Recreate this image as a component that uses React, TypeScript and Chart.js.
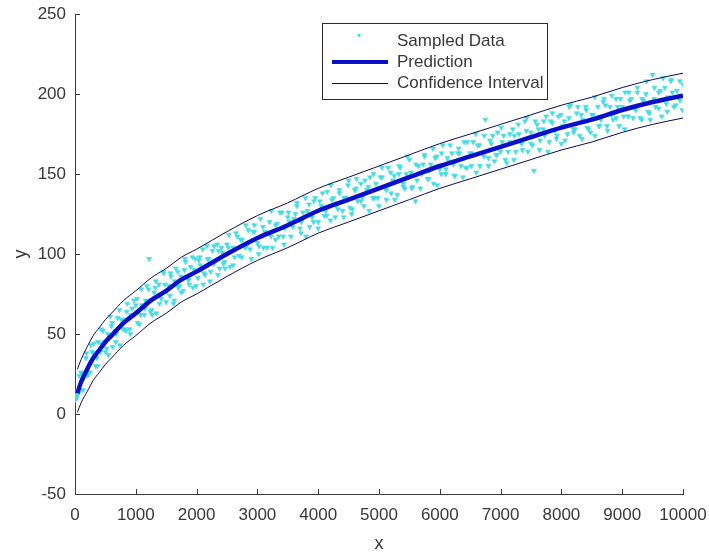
import React, { useEffect, useRef } from "react";
import { Chart, registerables } from "chart.js";

Chart.register(...registerables);

const sampledX: number[] = [
  5, 12, 30, 45, 20, 60, 100, 140, 180, 220, 260, 300, 340, 380, 420, 460, 500, 540, 580, 620,
  660, 700, 740, 780, 820, 860, 900, 940, 980, 1020, 1060, 1100, 1140, 1180, 1220, 1260, 1300, 1340, 1380, 1420,
  1460, 1500, 1540, 1580, 1620, 1660, 1700, 1740, 1780, 1820, 1860, 1900, 1940, 1980, 2020, 2060, 2100, 2140, 2180, 2220,
  2260, 2300, 2340, 2380, 2420, 2460,
  2500, 2550, 2600, 2650, 2700, 2750, 2800, 2850, 2900, 2950, 3000, 3050, 3100, 3150, 3200, 3250, 3300, 3350, 3400, 3450,
  3500, 3550, 3600, 3650, 3700, 3750, 3800, 3850, 3900, 3950, 4000, 4050, 4100, 4150, 4200, 4250, 4300, 4350, 4400, 4450,
  4500, 4550, 4600, 4650, 4700, 4750, 4800, 4850, 4900, 4950, 5000, 5050, 5100, 5150, 5200, 5250, 5300, 5350, 5400, 5450,
  5500, 5550, 5600, 5650, 5700, 5750, 5800, 5850, 5900, 5950, 6000, 6050, 6100, 6150, 6200, 6250, 6300, 6350, 6400, 6450,
  6500, 6550, 6600, 6650, 6700, 6750, 6800, 6850, 6900, 6950, 7000, 7050, 7100, 7150, 7200, 7250, 7300, 7350, 7400, 7450,
  7500, 7550, 7600, 7650, 7700, 7750, 7800, 7850, 7900, 7950, 8000, 8050, 8100, 8150, 8200, 8250, 8300, 8350, 8400, 8450,
  8500, 8550, 8600, 8650, 8700, 8750, 8800, 8850, 8900, 8950, 9000, 9050, 9100, 9150, 9200, 9250, 9300, 9350, 9400, 9450,
  9500, 9550, 9600, 9650, 9700, 9750, 9800, 9850, 9900, 9950, 10000,
  40, 120, 200, 280, 360, 440, 520, 600, 680, 760, 840, 920, 1000, 1080, 1160, 1240, 1320, 1400, 1480, 1560,
  1640, 1720, 1800, 1880, 1960, 2040, 2120, 2200, 2280, 2360, 2440,
  2525, 2625, 2725, 2825, 2925, 3025, 3125, 3225, 3325, 3425, 3525, 3625, 3725, 3825, 3925, 4025, 4125, 4225, 4325, 4425,
  4525, 4625, 4725, 4825, 4925, 5025, 5125, 5225, 5325, 5425, 5525, 5625, 5725, 5825, 5925, 6025, 6125, 6225, 6325, 6425,
  6525, 6625, 6725, 6825, 6925, 7025, 7125, 7225, 7325, 7425, 7525, 7625, 7725, 7825, 7925, 8025, 8125, 8225, 8325, 8425,
  8525, 8625, 8725, 8825, 8925, 9025, 9125, 9225, 9325, 9425, 9525, 9625, 9725, 9825, 9925,
  10, 70, 130, 190, 250, 310, 370, 430, 490, 550, 610, 670, 730, 790, 850, 910, 970, 1030, 1090, 1150,
  1210, 1270, 1330, 1390, 1450, 1510, 1570, 1630, 1690, 1750, 1810, 1870, 1930, 1990, 2050, 2110, 2170, 2230, 2290, 2350,
  2410, 2470,
  2530, 2600, 2670, 2740, 2810, 2880, 2950, 3020, 3090, 3160, 3230, 3300, 3370, 3440, 3510, 3580, 3650, 3720, 3790, 3860,
  3930, 4000, 4070, 4140, 4210, 4280, 4350, 4420, 4490, 4560, 4630, 4700, 4770, 4840, 4910, 4980, 5050, 5120, 5190, 5260,
  5330, 5400, 5470, 5540, 5610, 5680, 5750, 5820, 5890, 5960, 6030, 6100, 6170, 6240, 6310, 6380, 6450, 6520, 6590, 6660,
  6730, 6800, 6870, 6940, 7010, 7080, 7150, 7220, 7290, 7360, 7430, 7500, 7570, 7640, 7710, 7780, 7850, 7920, 7990, 8060,
  8130, 8200, 8270, 8340, 8410, 8480, 8550, 8620, 8690, 8760, 8830, 8900, 8970, 9040, 9110, 9180, 9250, 9320, 9390, 9460,
  9530, 9600, 9670, 9740, 9810, 9880, 9950, 9990,
];
const sampledY: number[] = [
  9, 12, 10, 14, 11, 13, 26, 22, 35, 25, 43, 38, 30, 45, 39, 52, 39, 50, 61, 42,
  52, 60, 43, 59, 53, 69, 53, 66, 62, 72, 56, 68, 62, 80, 97, 65, 76, 63, 81, 72,
  88, 70, 80, 86, 69, 91, 79, 86, 77, 95, 84, 92, 79, 97, 85, 93, 103, 87, 97, 83,
  102, 95, 106, 91, 101, 95,
  106, 92, 104, 113, 99, 109, 104, 115, 97, 114, 107, 122, 104, 113, 120, 104, 118, 111, 126, 116,
  123, 111, 122, 132, 116, 126, 111, 131, 123, 135, 120, 130, 124, 139, 121, 135, 130, 140, 127, 135,
  146, 125, 140, 133, 144, 130, 140, 148, 135, 144, 130, 148, 141, 154, 138, 149, 137, 154, 144, 150,
  159, 142, 133, 155, 150, 161, 147, 156, 144, 161, 153, 168, 150, 158, 163, 149, 163, 155, 170, 154,
  163, 170, 151, 168, 163, 184, 160, 169, 158, 176, 164, 174, 157, 170, 178, 164, 175, 169, 183, 164,
  176, 152, 181, 171, 178, 186, 170, 182, 177, 186, 169, 183, 175, 193, 178, 188, 174, 184, 192, 178,
  187, 174, 192, 184, 197, 180, 192, 184, 197, 180, 192, 201, 186, 197, 191, 201, 185, 196, 208, 188,
  212, 192, 201, 186, 204, 198, 208, 192, 202, 196, 206,
  12, 25, 24, 39, 35, 44, 41, 55, 50, 59, 52, 62, 68, 62, 71, 64, 79, 74, 81, 74,
  83, 80, 90, 81, 90, 96, 88, 97, 94, 102, 94,
  104, 98, 109, 105, 114, 105, 114, 111, 119, 111, 120, 125, 120, 127, 120, 133, 127, 134, 128, 135,
  129, 141, 135, 142, 135, 148, 140, 146, 150, 141, 151, 146, 156, 152, 160, 150, 160, 156, 163, 154,
  163, 168, 161, 171, 162, 170, 164, 174, 170, 177, 168, 178, 174, 183, 174, 180, 185, 178, 187, 179,
  187, 180, 193, 187, 192, 186, 196, 190, 197, 189, 197, 202, 194, 201, 198,
  9, 24, 15, 38, 26, 44, 30, 53, 45, 37, 57, 45, 65, 53, 64, 50, 71, 57, 78, 66,
  78, 62, 83, 69, 89, 77, 88, 71, 89, 76, 97, 84, 98, 80, 98, 81, 105, 89, 105, 87,
  104, 91,
  112, 93, 111, 98, 118, 103, 118, 100, 117, 104, 127, 109, 126, 106, 126, 117, 130, 113, 135, 117,
  133, 116, 138, 124, 143, 123, 138, 123, 143, 128, 147, 133, 146, 127, 150, 135, 154, 134, 151, 134,
  155, 142, 161, 141, 156, 141, 162, 147, 166, 143, 163, 153, 168, 149, 166, 148, 170, 155, 175, 155,
  174, 155, 174, 162, 179, 159, 175, 159, 181, 165, 185, 169, 183, 165, 183, 164, 188, 172, 187, 171,
  192, 176, 192, 172, 190, 176, 198, 180, 195, 177, 199, 185, 197, 178, 201, 185, 204, 184, 200, 184,
  204, 191, 210, 189, 209, 193, 208, 190,
];

// Prediction and confidence interval
const fitX: number[] = [
  40, 100, 200, 300, 400, 500, 600, 800, 1000, 1250, 1500, 1750, 2000, 2500, 3000, 3500, 4000, 4500, 5000,
  5500, 6000, 6500, 7000, 7500, 8000, 8500, 9000, 9500, 10000,
];
const prediction: number[] = [
  13, 20, 28, 35, 40, 45, 49, 57, 63, 71, 77, 84, 89, 100, 110, 118, 127, 134, 141,
  148, 155, 161, 167, 173, 179, 184, 190, 195, 199,
];
const upperCI: number[] = [
  28, 34, 42, 49, 54, 59, 63, 71, 77, 85, 91, 98, 103, 114, 124, 132, 141, 148, 155,
  162, 169, 175, 181, 187, 193, 198, 204, 209, 213,
];
const lowerCI: number[] = [
  1, 7, 14, 21, 26, 31, 35, 43, 49, 57, 63, 70, 75, 86, 96, 104, 113, 120, 127,
  134, 141, 147, 153, 159, 165, 170, 176, 181, 185,
];

const xTicks: number[] = [0, 1000, 2000, 3000, 4000, 5000, 6000, 7000, 8000, 9000, 10000];
const yTicks: number[] = [-50, 0, 50, 100, 150, 200, 250];
const legendLabels: string[] = ["Sampled Data", "Prediction", "Confidence Interval"];

const FONT = "'Liberation Sans', Arial, Helvetica, sans-serif";
const AXIS_COLOR = "#3a3a3a";
const TEXT_COLOR = "#383838";
const CYAN = "#45dde3";
const BLUE = "#0a10c8";
const NAVY = "#0a0a60";

export default function App() {
  const ref = useRef<HTMLCanvasElement | null>(null);

  useEffect(() => {
    document.body.style.margin = "0";
    const canvas = ref.current;
    if (!canvas) return;

    const tickPlugin = {
      id: "inwardTicks",
      afterDatasetsDraw(chart: any) {
        const { ctx, chartArea, scales } = chart;
        ctx.save();
        ctx.strokeStyle = AXIS_COLOR;
        ctx.lineWidth = 1;
        xTicks.forEach((v) => {
          const px = Math.round(scales.x.getPixelForValue(v)) + 0.5;
          ctx.beginPath();
          ctx.moveTo(px, chartArea.bottom);
          ctx.lineTo(px, chartArea.bottom - 5);
          ctx.stroke();
        });
        yTicks.forEach((v) => {
          const py = Math.round(scales.y.getPixelForValue(v)) + 0.5;
          ctx.beginPath();
          ctx.moveTo(chartArea.left, py);
          ctx.lineTo(chartArea.left + 5, py);
          ctx.stroke();
        });

        // legend box
        const bx = 322.5, by = 23.5, bw = 225, bh = 76;
        ctx.fillStyle = "#ffffff";
        ctx.fillRect(bx, by, bw, bh);
        ctx.strokeStyle = "#2b2b2b";
        ctx.strokeRect(bx, by, bw, bh);
        const rows = [41, 62, 83];
        ctx.font = `17px ${FONT}`;
        ctx.fillStyle = TEXT_COLOR;
        ctx.textBaseline = "middle";
        ctx.textAlign = "left";
        legendLabels.forEach((t, i) => ctx.fillText(t, 397, rows[i]));
        // sampled marker
        ctx.fillStyle = CYAN;
        ctx.beginPath();
        ctx.moveTo(357, 34);
        ctx.lineTo(361, 34);
        ctx.lineTo(359, 38);
        ctx.closePath();
        ctx.fill();
        // prediction
        ctx.strokeStyle = BLUE;
        ctx.lineWidth = 4;
        ctx.beginPath();
        ctx.moveTo(332, rows[1]);
        ctx.lineTo(388, rows[1]);
        ctx.stroke();
        // CI
        ctx.strokeStyle = NAVY;
        ctx.lineWidth = 1;
        ctx.beginPath();
        ctx.moveTo(332, rows[2] + 0.5);
        ctx.lineTo(388, rows[2] + 0.5);
        ctx.stroke();
        ctx.restore();
      },
    };

    const chart = new Chart(canvas, {
      type: "scatter",
      data: {
        datasets: [
          {
            label: "Prediction",
            data: fitX.map((x, i) => ({ x, y: prediction[i] })),
            showLine: true,
            borderColor: BLUE,
            borderWidth: 4.5,
            pointRadius: 0,
            cubicInterpolationMode: "monotone",
          },
          {
            label: "Confidence Interval",
            data: fitX.map((x, i) => ({ x, y: upperCI[i] })),
            showLine: true,
            borderColor: NAVY,
            borderWidth: 1,
            pointRadius: 0,
            cubicInterpolationMode: "monotone",
          },
          {
            label: "Confidence Interval (lower)",
            data: fitX.map((x, i) => ({ x, y: lowerCI[i] })),
            showLine: true,
            borderColor: NAVY,
            borderWidth: 1,
            pointRadius: 0,
            cubicInterpolationMode: "monotone",
          },
          {
            label: "Sampled Data",
            data: sampledX.map((x, i) => ({ x, y: sampledY[i] })),
            showLine: false,
            pointStyle: "triangle",
            rotation: 180,
            pointRadius: 2.9,
            backgroundColor: CYAN,
            borderColor: CYAN,
            borderWidth: 0.6,
          },
        ],
      },
      options: {
        responsive: false,
        animation: false,
        devicePixelRatio: 1,
        layout: { padding: { left: 0, right: 26, top: 14, bottom: 0 } },
        plugins: { legend: { display: false }, tooltip: { enabled: false } },
        scales: {
          x: {
            type: "linear",
            min: 0,
            max: 10000,
            afterFit: (s: any) => {
              s.height = 63;
              s.paddingLeft = 0;
              s.paddingRight = 0;
            },
            afterBuildTicks: (s: any) => {
              s.ticks = xTicks.map((v) => ({ value: v }));
            },
            ticks: {
              color: TEXT_COLOR,
              font: { family: FONT, size: 17 },
              padding: 11,
              maxRotation: 0,
              autoSkip: false,
              callback: (v: any) => String(v),
            },
            grid: { display: true, drawOnChartArea: false, drawTicks: false },
            border: { display: true, color: AXIS_COLOR, width: 1 },
            title: {
              display: true,
              text: "x",
              color: TEXT_COLOR,
              font: { family: FONT, size: 18 },
              padding: { top: 0, bottom: 2 },
            },
          },
          y: {
            type: "linear",
            min: -50,
            max: 250,
            afterFit: (s: any) => {
              s.width = 75;
              s.paddingTop = 0;
              s.paddingBottom = 0;
            },
            afterBuildTicks: (s: any) => {
              s.ticks = yTicks.map((v) => ({ value: v }));
            },
            ticks: {
              color: TEXT_COLOR,
              font: { family: FONT, size: 17 },
              padding: 9,
              autoSkip: false,
              callback: (v: any) => String(v),
            },
            grid: { display: true, drawOnChartArea: false, drawTicks: false },
            border: { display: true, color: AXIS_COLOR, width: 1 },
            title: {
              display: true,
              text: "y",
              color: TEXT_COLOR,
              font: { family: FONT, size: 18 },
              padding: { top: 10, bottom: 0 },
            },
          },
        },
      },
      plugins: [tickPlugin],
    } as any);

    return () => chart.destroy();
  }, []);

  return (
    <div style={{ width: 709, height: 557, background: "#fff" }}>
      <canvas ref={ref} width={709} height={557} style={{ display: "block" }} />
    </div>
  );
}
